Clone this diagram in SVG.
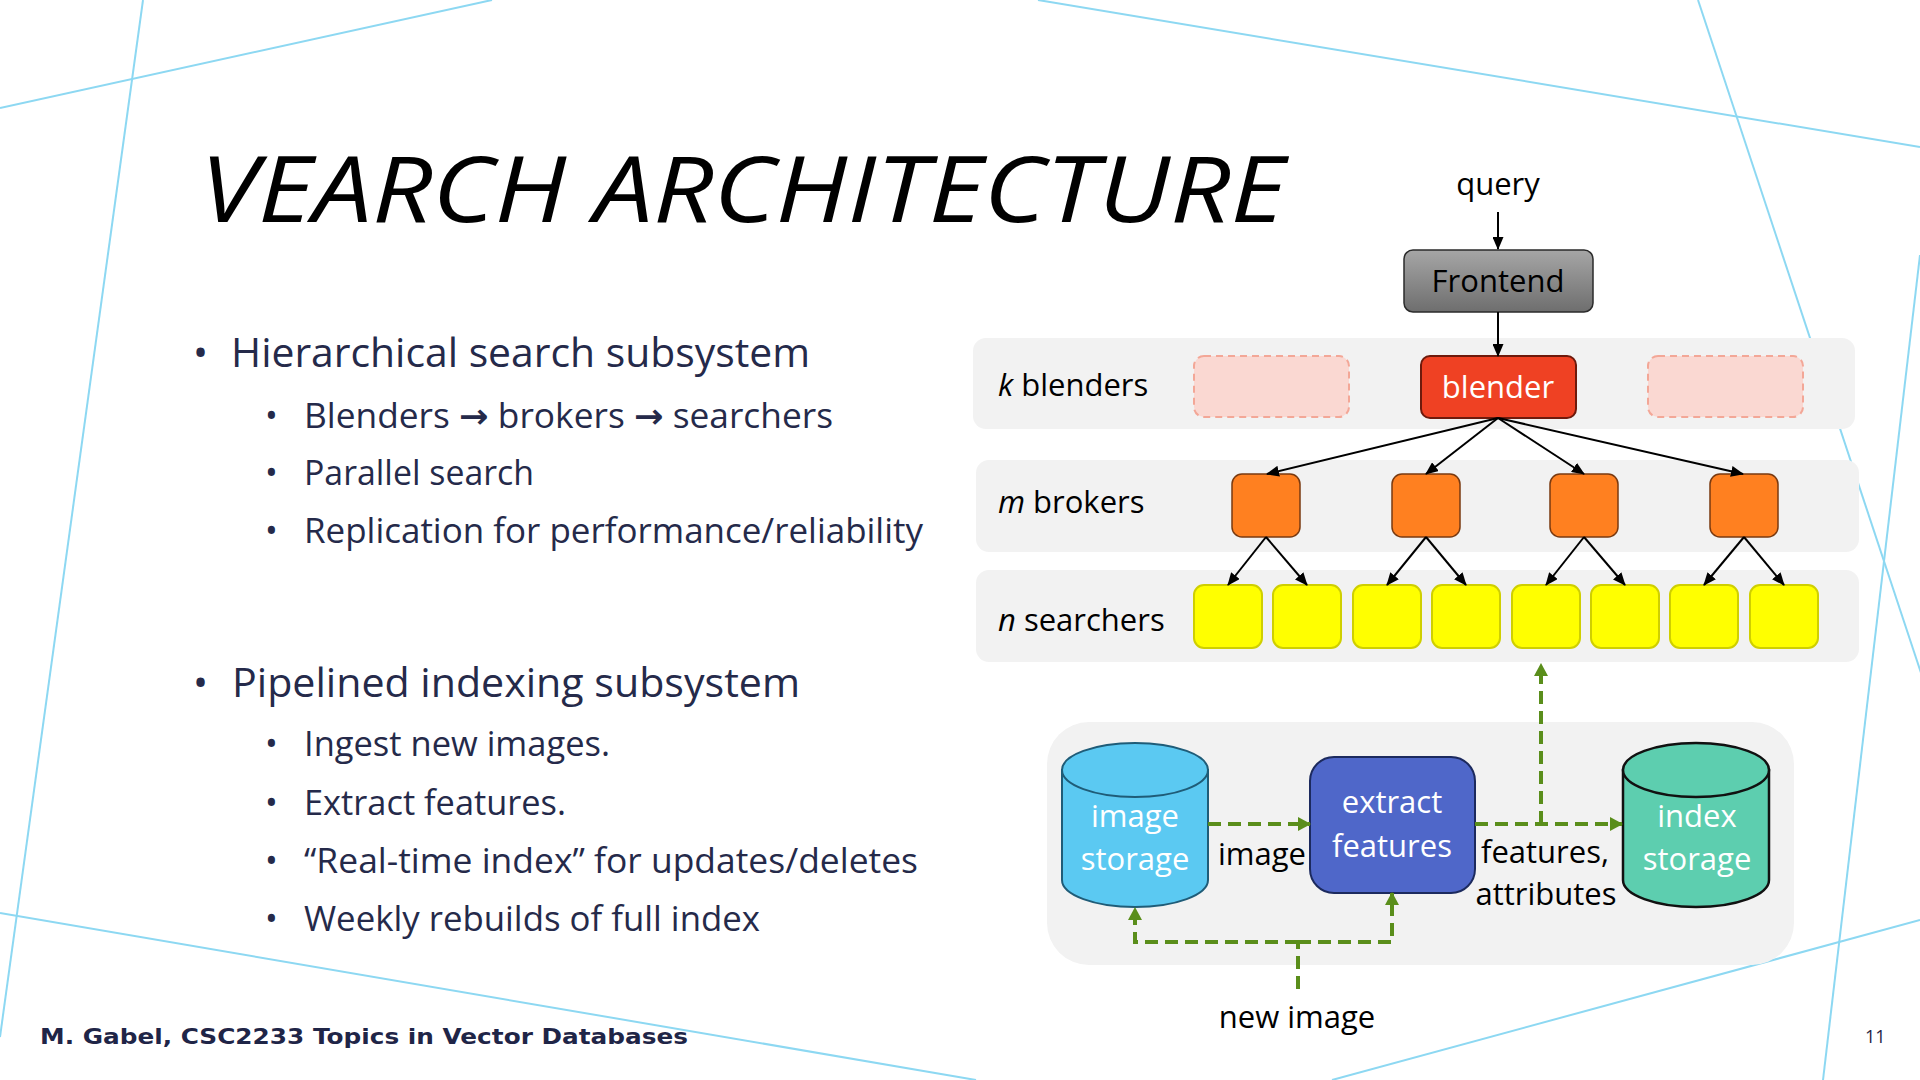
<svg xmlns="http://www.w3.org/2000/svg" width="1920" height="1080" viewBox="0 0 1920 1080">
  <defs>
    <linearGradient id="gFront" x1="0" y1="0" x2="0" y2="1">
      <stop offset="0" stop-color="#A6A6A6"/>
      <stop offset="1" stop-color="#6E6E6E"/>
    </linearGradient>
    <marker id="ah" markerUnits="userSpaceOnUse" markerWidth="13" markerHeight="11" refX="12" refY="5.5" orient="auto">
      <path d="M0,0 L13,5.5 L0,11 z" fill="#000"/>
    </marker>
    <marker id="gh" markerUnits="userSpaceOnUse" markerWidth="13" markerHeight="14" refX="12" refY="7" orient="auto">
      <path d="M0,0 L13,7 L0,14 z" fill="#5A8E1B"/>
    </marker>
    <style>
      .bg { stroke: #8DD8F2; stroke-width: 2; fill: none; }
      .panel { fill: #F2F2F2; }
      .body { font-family: "Open Sans", "Liberation Sans", sans-serif; fill: #252A4A; }
      .sym { font-family: "DejaVu Sans", sans-serif; font-weight: bold; }
      .lbl { font-family: "Open Sans", "Liberation Sans", sans-serif; font-size: 31px; fill: #000; }
      .wlbl { font-family: "Open Sans", "Liberation Sans", sans-serif; font-size: 31px; fill: #FFF; text-anchor: middle; }
      .ghost { fill: #FAD8D2; stroke: #F3A797; stroke-width: 2; stroke-dasharray: 7 5; }
      .broker { fill: #FF8020; stroke: #7A3A10; stroke-width: 1.5; }
      .searcher { fill: #FFFF00; stroke: #CFCF00; stroke-width: 2; }
      .arr { stroke: #000; stroke-width: 2; fill: none; marker-end: url(#ah); }
      .garr { stroke: #5A8E1B; stroke-width: 4; fill: none; stroke-dasharray: 13 7; }
    </style>
  </defs>

  <rect x="0" y="0" width="1920" height="1080" fill="#FFFFFF"/>

  <!-- background decorative lines -->
  <g id="background-lines">
    <line class="bg" x1="0" y1="108" x2="492" y2="0"/>
    <line class="bg" x1="143" y1="0" x2="0" y2="1037"/>
    <line class="bg" x1="1038" y1="0" x2="1920" y2="147"/>
    <line class="bg" x1="1698" y1="0" x2="1926" y2="688"/>
    <line class="bg" x1="1920" y1="255" x2="1823" y2="1080"/>
    <line class="bg" x1="0" y1="913" x2="976" y2="1080"/>
    <line class="bg" x1="1920" y1="920" x2="1332" y2="1080"/>
  </g>

  <!-- title -->
  <text id="title" x="200" y="222" font-family="'Open Sans', 'Liberation Sans', sans-serif" font-style="italic" font-size="91" fill="#000" textLength="1085" lengthAdjust="spacingAndGlyphs">VEARCH ARCHITECTURE</text>

  <!-- bullet text -->
  <g id="bullets" class="body">
    <text x="193" y="367" font-size="40">•</text>
    <text x="231" y="367" font-size="40" textLength="579" lengthAdjust="spacingAndGlyphs">Hierarchical search subsystem</text>
    <text x="265" y="428" font-size="34">•</text>
    <text x="304" y="428" font-size="34" textLength="529" lengthAdjust="spacingAndGlyphs">Blenders <tspan class="sym" font-size="34">→</tspan> brokers <tspan class="sym" font-size="34">→</tspan> searchers</text>
    <text x="265" y="485" font-size="34">•</text>
    <text x="304" y="485" font-size="34" textLength="230" lengthAdjust="spacingAndGlyphs">Parallel search</text>
    <text x="265" y="543" font-size="34">•</text>
    <text x="304" y="543" font-size="34" textLength="619" lengthAdjust="spacingAndGlyphs">Replication for performance/reliability</text>

    <text x="193" y="697" font-size="40">•</text>
    <text x="232" y="697" font-size="40" textLength="568" lengthAdjust="spacingAndGlyphs">Pipelined indexing subsystem</text>
    <text x="265" y="756" font-size="34">•</text>
    <text x="304" y="756" font-size="34" textLength="306" lengthAdjust="spacingAndGlyphs">Ingest new images.</text>
    <text x="265" y="815" font-size="34">•</text>
    <text x="304" y="815" font-size="34" textLength="262" lengthAdjust="spacingAndGlyphs">Extract features.</text>
    <text x="265" y="873" font-size="34">•</text>
    <text x="304" y="873" font-size="34" textLength="614" lengthAdjust="spacingAndGlyphs">“Real-time index” for updates/deletes</text>
    <text x="265" y="931" font-size="34">•</text>
    <text x="304" y="931" font-size="34" textLength="456" lengthAdjust="spacingAndGlyphs">Weekly rebuilds of full index</text>
  </g>

  <!-- footer -->
  <text id="footer" x="40" y="1044" font-family="'DejaVu Sans', Verdana, sans-serif" font-weight="bold" font-size="21" fill="#1F2547" textLength="648" lengthAdjust="spacingAndGlyphs">M. Gabel, CSC2233 Topics in Vector Databases</text>
  <text id="page-number" x="1865" y="1043" font-family="'Open Sans', 'Liberation Sans', sans-serif" font-size="18" fill="#1F2547">11</text>

  <!-- tier panels -->
  <g id="panel-blenders">
    <rect class="panel" x="973" y="338" width="882" height="91" rx="13"/>
    <text class="lbl" x="998" y="396"><tspan font-style="italic">k</tspan> blenders</text>
  </g>
  <g id="panel-brokers">
    <rect class="panel" x="976" y="460" width="883" height="92" rx="13"/>
    <text class="lbl" x="998" y="513"><tspan font-style="italic">m</tspan> brokers</text>
  </g>
  <g id="panel-searchers">
    <rect class="panel" x="976" y="570" width="883" height="92" rx="13"/>
    <text class="lbl" x="998" y="631"><tspan font-style="italic">n</tspan> searchers</text>
  </g>
  <g id="panel-indexing">
    <rect class="panel" x="1047" y="722" width="747" height="243" rx="42"/>
  </g>

  <!-- nodes -->
  <g id="query-label">
    <text class="lbl" x="1498" y="195" text-anchor="middle">query</text>
  </g>
  <g id="frontend">
    <rect x="1404" y="250" width="189" height="62" rx="9" fill="url(#gFront)" stroke="#2B2B2B" stroke-width="1.5"/>
    <text class="lbl" x="1498" y="292" text-anchor="middle">Frontend</text>
  </g>
  <g id="blender-ghost-left">
    <rect class="ghost" x="1194" y="356" width="155" height="61" rx="10"/>
  </g>
  <g id="blender">
    <rect x="1421" y="356" width="155" height="62" rx="9" fill="#EF4123" stroke="#6E1A0C" stroke-width="2"/>
    <text class="wlbl" x="1498" y="398">blender</text>
  </g>
  <g id="blender-ghost-right">
    <rect class="ghost" x="1648" y="356" width="155" height="61" rx="10"/>
  </g>

  <g id="broker-1"><rect class="broker" x="1232" y="474" width="68" height="63" rx="10"/></g>
  <g id="broker-2"><rect class="broker" x="1392" y="474" width="68" height="63" rx="10"/></g>
  <g id="broker-3"><rect class="broker" x="1550" y="474" width="68" height="63" rx="10"/></g>
  <g id="broker-4"><rect class="broker" x="1710" y="474" width="68" height="63" rx="10"/></g>

  <g id="searcher-1"><rect class="searcher" x="1194" y="585" width="68" height="63" rx="10"/></g>
  <g id="searcher-2"><rect class="searcher" x="1273" y="585" width="68" height="63" rx="10"/></g>
  <g id="searcher-3"><rect class="searcher" x="1353" y="585" width="68" height="63" rx="10"/></g>
  <g id="searcher-4"><rect class="searcher" x="1432" y="585" width="68" height="63" rx="10"/></g>
  <g id="searcher-5"><rect class="searcher" x="1512" y="585" width="68" height="63" rx="10"/></g>
  <g id="searcher-6"><rect class="searcher" x="1591" y="585" width="68" height="63" rx="10"/></g>
  <g id="searcher-7"><rect class="searcher" x="1670" y="585" width="68" height="63" rx="10"/></g>
  <g id="searcher-8"><rect class="searcher" x="1750" y="585" width="68" height="63" rx="10"/></g>

  <g id="image-storage">
    <path d="M1062,770 V880 A73,27 0 0 0 1208,880 V770 Z" fill="#5BC9F2" stroke="#1F5C78" stroke-width="2"/>
    <ellipse cx="1135" cy="770" rx="73" ry="27" fill="#5BC9F2" stroke="#1F5C78" stroke-width="2"/>
    <text class="wlbl" x="1135" y="827">image</text>
    <text class="wlbl" x="1135" y="870">storage</text>
  </g>
  <g id="extract-features">
    <rect x="1310" y="757" width="165" height="136" rx="24" fill="#4F67C9" stroke="#1C2A5E" stroke-width="2"/>
    <text class="wlbl" x="1392" y="813">extract</text>
    <text class="wlbl" x="1392" y="857">features</text>
  </g>
  <g id="index-storage">
    <path d="M1623,770 V880 A73,27 0 0 0 1769,880 V770 Z" fill="#5DCEAF" stroke="#111" stroke-width="2.5"/>
    <ellipse cx="1696" cy="770" rx="73" ry="27" fill="#5DCEAF" stroke="#111" stroke-width="2.5"/>
    <text class="wlbl" x="1697" y="827">index</text>
    <text class="wlbl" x="1697" y="870">storage</text>
  </g>

  <!-- connectors -->
  <g id="connectors">
    <line class="arr" x1="1498" y1="212" x2="1498" y2="249"/>
    <line class="arr" x1="1498" y1="312" x2="1498" y2="356"/>

    <line class="arr" x1="1498" y1="418" x2="1267" y2="474"/>
    <line class="arr" x1="1498" y1="418" x2="1426" y2="474"/>
    <line class="arr" x1="1498" y1="418" x2="1584" y2="474"/>
    <line class="arr" x1="1498" y1="418" x2="1743" y2="474"/>

    <line class="arr" x1="1266" y1="537" x2="1228" y2="585"/>
    <line class="arr" x1="1266" y1="537" x2="1307" y2="585"/>
    <line class="arr" x1="1426" y1="537" x2="1387" y2="585"/>
    <line class="arr" x1="1426" y1="537" x2="1466" y2="585"/>
    <line class="arr" x1="1584" y1="537" x2="1546" y2="585"/>
    <line class="arr" x1="1584" y1="537" x2="1625" y2="585"/>
    <line class="arr" x1="1744" y1="537" x2="1704" y2="585"/>
    <line class="arr" x1="1744" y1="537" x2="1784" y2="585"/>

    <line class="garr" x1="1208" y1="824" x2="1310" y2="824" marker-end="url(#gh)"/>
    <line class="garr" x1="1475" y1="824" x2="1622" y2="824" marker-end="url(#gh)"/>
    <line class="garr" x1="1541" y1="824" x2="1541" y2="664" marker-end="url(#gh)"/>
    <line class="garr" x1="1298" y1="989" x2="1298" y2="942"/>
    <path class="garr" d="M1298,942 H1135 V908" marker-end="url(#gh)"/>
    <path class="garr" d="M1298,942 H1392 V893" marker-end="url(#gh)"/>

    <text class="lbl" x="1262" y="865" text-anchor="middle">image</text>
    <text class="lbl" x="1545" y="863" text-anchor="middle">features,</text>
    <text class="lbl" x="1546" y="905" text-anchor="middle">attributes</text>
    <text class="lbl" x="1297" y="1028" text-anchor="middle">new image</text>
  </g>
</svg>
